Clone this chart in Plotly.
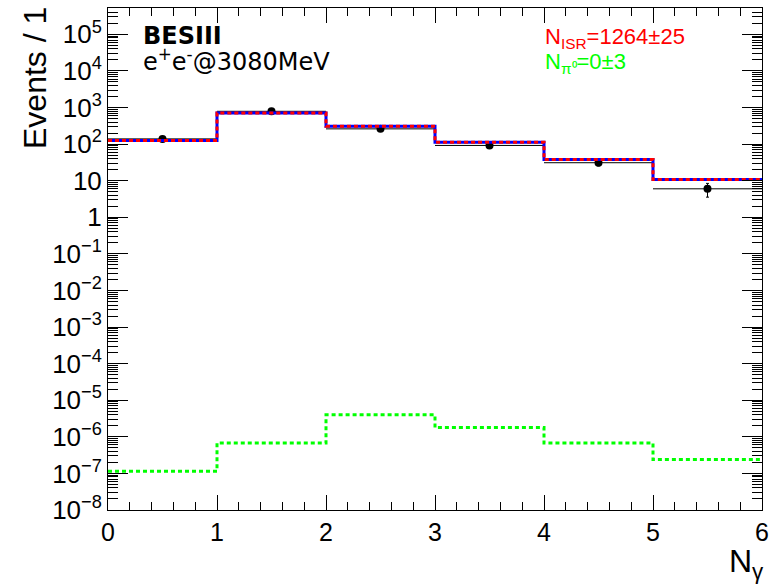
import numpy as np
import plotly.graph_objects as go

# Binning in photon multiplicity
bin_edges = [0, 1, 2, 3, 4, 5, 6]
bin_centers = [0.5, 1.5, 2.5, 3.5, 4.5, 5.5]

# Observed events per bin
data_counts = [139, 788, 261, 92, 31, 6]
# Fitted ISR template (total)
isr_fit = [125, 713, 307, 113, 38, 10.8]
# pi0 background template
pi0_bkg = [1.15e-7, 6.8e-7, 4.0e-6, 1.8e-6, 6.8e-7, 2.4e-7]

# Frame geometry in pixels
W, H = 776, 587
L, R, T, B = 108, 10, 7, 77
plot_w = W - L - R
plot_h = H - T - B

FONT = "Liberation Sans, Arial, Helvetica, sans-serif"
WIDE = "DejaVu Sans, Liberation Sans, sans-serif"


def px_x(p):
    return (p - L) / plot_w


def px_y(p):
    return (H - B - p) / plot_h


def step(vals):
    return list(vals) + [vals[-1]]


fig = go.Figure()

# Data with Poisson errors and bin-width bars
fig.add_trace(go.Scatter(
    x=bin_centers, y=data_counts, mode="markers",
    marker=dict(color="black", size=8),
    error_y=dict(type="data", array=list(np.sqrt(data_counts)), color="black",
                 thickness=1, width=1.5),
    error_x=dict(type="constant", value=0.5, color="black", thickness=1, width=0),
    showlegend=False,
))

# Total fit: blue solid under red dashes
fig.add_trace(go.Scatter(
    x=bin_edges, y=step(isr_fit), mode="lines", line_shape="hv",
    line=dict(color="#0000ff", width=3), showlegend=False,
))
fig.add_trace(go.Scatter(
    x=bin_edges, y=step(isr_fit), mode="lines", line_shape="hv",
    line=dict(color="#ff0000", width=3, dash="4px,3px"), showlegend=False,
))

# pi0 background, dotted green
fig.add_trace(go.Scatter(
    x=bin_edges, y=step(pi0_bkg), mode="lines", line_shape="hv",
    line=dict(color="#00ff00", width=3, dash="4px,3px"), showlegend=False,
))

# Log axis ticks: decades and 2..9 subdivisions
decades = np.arange(-8, 6)
major_vals = [10.0 ** d for d in decades]
major_text = []
for d in decades:
    if d == 0:
        major_text.append("1")
    elif d == 1:
        major_text.append("10")
    elif d < 0:
        major_text.append("10<sup>\u2212%d</sup>" % (-d))
    else:
        major_text.append("10<sup>%d</sup>" % d)
minor_vals = [m * 10.0 ** d for d in range(-8, 6) for m in range(2, 10)]

fig.update_xaxes(
    range=[0, 6], showgrid=False, zeroline=False,
    showline=True, linecolor="black", linewidth=1, mirror="ticks",
    ticks="inside", ticklen=15, tickcolor="black", tickwidth=1,
    tickvals=[0, 1, 2, 3, 4, 5, 6], ticktext=["0", "1", "2", "3", "4", "5", "6"],
    tickfont=dict(family=FONT, size=25, color="black"),
    minor=dict(ticks="inside", ticklen=8, tickcolor="black", tickwidth=1,
               tickvals=[i * 0.2 for i in range(31)]),
)
fig.update_yaxes(
    type="log", range=[-8, 5.72], showgrid=False, zeroline=False,
    showline=True, linecolor="black", linewidth=1, mirror="ticks",
    ticks="inside", ticklen=20, tickcolor="black", tickwidth=1,
    tickvals=major_vals, ticktext=major_text,
    tickfont=dict(family=FONT, size=26, color="black"),
    minor=dict(ticks="inside", ticklen=10, tickcolor="black", tickwidth=1,
               tickvals=minor_vals),
)

annotations = [
    dict(text="Events / 1", textangle=-90, xref="paper", yref="paper",
         x=0, y=1, xanchor="center", yanchor="top", xshift=35 - L, yshift=3,
         showarrow=False, font=dict(family=FONT, size=32, color="black")),
    dict(text="N<sub>\u03b3</sub>", xref="paper", yref="paper",
         x=1, y=0, xanchor="right", yanchor="top", xshift=4, yshift=-31,
         showarrow=False, font=dict(family=FONT, size=32, color="black")),
    dict(text="<b>BESIII</b>", xref="paper", yref="paper",
         x=px_x(141), y=px_y(35), xanchor="left", yanchor="middle",
         showarrow=False, font=dict(family=WIDE, size=24, color="black")),
    dict(text="e<sup>+</sup>e<sup>-</sup>@3080MeV", xref="paper", yref="paper",
         x=px_x(141), y=px_y(59), xanchor="left", yanchor="middle",
         showarrow=False, font=dict(family=WIDE, size=24, color="black")),
    dict(text="N<sub>ISR</sub>=1264\u00b125", xref="paper", yref="paper",
         x=px_x(546), y=px_y(37), xanchor="left", yanchor="middle",
         showarrow=False, font=dict(family=FONT, size=22, color="#ff0000")),
    dict(text="N<sub>\u03c0\u2070</sub>=0\u00b13", xref="paper", yref="paper",
         x=px_x(546), y=px_y(62), xanchor="left", yanchor="middle",
         showarrow=False, font=dict(family=FONT, size=22, color="#00ff00")),
]

fig.update_layout(
    width=W, height=H,
    margin=dict(l=L, r=R, t=T, b=B, pad=0),
    paper_bgcolor="white", plot_bgcolor="white",
    annotations=annotations,
    font=dict(family=FONT),
)

fig.write_html("out.html")
